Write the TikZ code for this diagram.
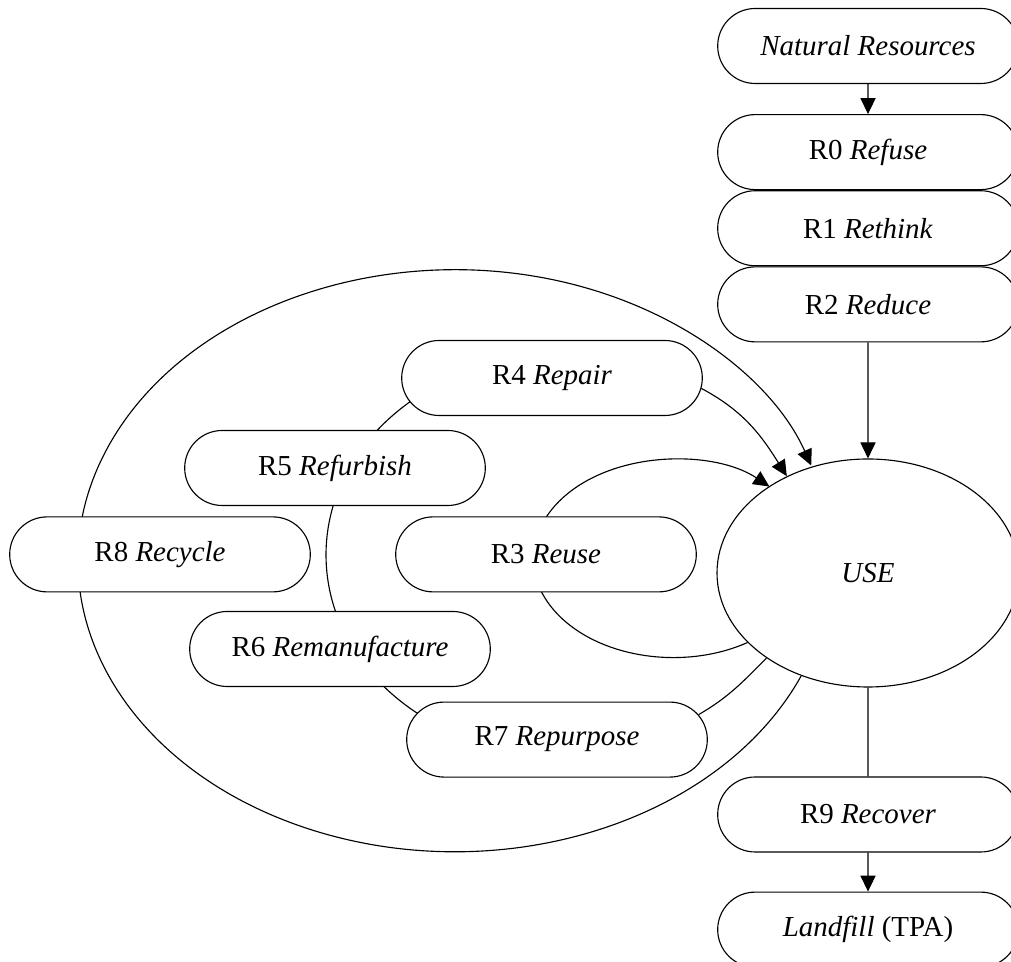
\documentclass[tikz,border=0pt]{standalone}
\usepackage{fontspec}
\setmainfont{Liberation Serif}
\usetikzlibrary{positioning,shapes.misc,shapes.geometric,backgrounds,arrows.meta}

\begin{document}
\begin{tikzpicture}[
	box/.style={
		draw, rounded rectangle, line width=0.8pt,
		minimum width=7.75cm, minimum height=1.875cm,
		fill=white, font=\fontsize{20.6}{24}\selectfont,
	},
	hub/.style={
		draw, ellipse, line width=0.8pt, fill=white,
		minimum width=7.55cm, minimum height=5.7cm,
		font=\fontsize{20.6}{24}\selectfont,
	},
	line/.style={line width=0.8pt},
	arr/.style={-{Triangle[width=0.38cm,length=0.4cm]}},
	]
	\useasboundingbox (0,0) rectangle (25.275,24.05);
	
	\node[box] (nat) at (21.7,22.9) {\textit{Natural Resources}};
	\node[box, below=0.75cm of nat] (r0) {R0 \textit{Refuse}};
	\node[box, below=0pt of r0] (r1) {R1 \textit{Rethink}};
	\node[box, below=0pt of r1] (r2) {R2 \textit{Reduce}};
	
	\node[hub] (use) at (21.7,9.725) {\textit{USE}};
	
	\node[box] (r9) at (21.7,3.6875) {R9 \textit{Recover}};
	\node[box, below=0.975cm of r9] (land) {\textit{Landfill} (TPA)};
	
	\node[box] (r4) at (13.8,14.6) {R4 \textit{Repair}};
	\node[box] (r5) at (8.375,12.35) {R5 \textit{Refurbish}};
	\node[box] (r8) at (4.0,10.19) {R8 \textit{Recycle}};
	\node[box] (r3) at (13.65,10.19) {R3 \textit{Reuse}};
	\node[box] (r6) at (8.5,7.825) {R6 \textit{Remanufacture}};
	\node[box] (r7) at (13.925,5.56) {R7 \textit{Repurpose}};
	
	\draw[line, arr] (nat) -- (r0);
	\draw[line, arr] (r2) -- (use);
	\draw[line] (use) -- (r9);
	\draw[line, arr] (r9) -- (land);
	
	\begin{scope}[on background layer]
		% outer loop (R8)
		\draw[line, arr] (use.237) arc[start angle=-23.3, end angle=-340.9, x radius=9.425cm, y radius=7.275cm];
		% middle loop (R4 to R7)
		\draw[line] ([shift={(-0.355,0.53)}]r4.center) arc[start angle=95, end angle=265, x radius=5.8cm, y radius=4.975cm];
		\draw[line, arr] (r4.-4) to[out=-28, in=122] (use.130);
		\draw[line] (use.220) to[out=225, in=30] (r7.10);
		% inner loop (R3)
		\draw[line, arr] (use.210) arc[start angle=-58, end angle=-313.3, x radius=3.5cm, y radius=2.475cm];
	\end{scope}
\end{tikzpicture}
\end{document}
